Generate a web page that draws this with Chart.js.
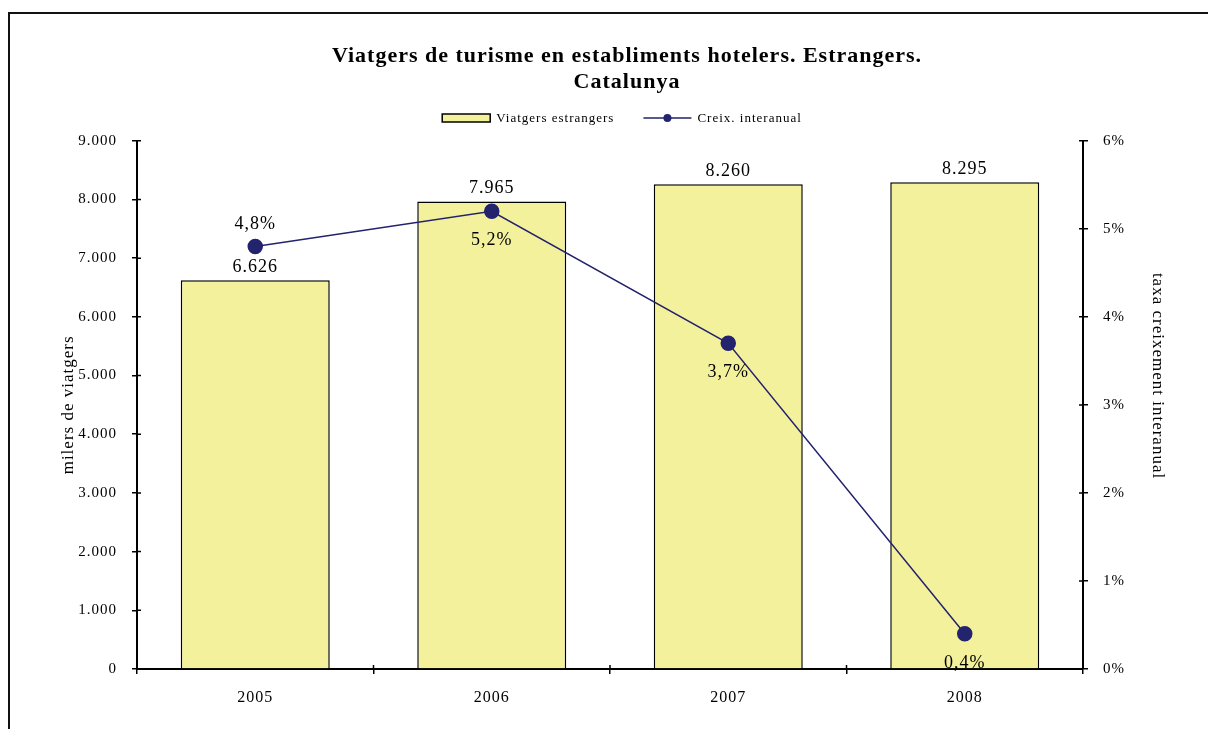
<!DOCTYPE html>
<html lang="ca">
<head>
<meta charset="UTF-8">
<style>
  html, body { margin: 0; padding: 0; background: #fff; overflow: hidden; }
  #frame { position: absolute; left: 8px; top: 12px; width: 1300px; height: 800px;
           border-top: 2px solid #111; border-left: 2px solid #111; }
  #chart { position: absolute; left: 0; top: 0; }
</style>
</head>
<body>
<div id="frame"></div>
<canvas id="chart" width="1208" height="729"></canvas>
<script src="https://cdn.jsdelivr.net/npm/chart.js@4/dist/chart.umd.min.js"></script>
<script>
    var years = ['2005', '2006', '2007', '2008'];
    var viatgers = [6626, 7965, 8260, 8295];   // milers de viatgers
    var creixement = [4.8, 5.2, 3.7, 0.4];      // % interanual

    var SERIF = '"Liberation Serif", "Times New Roman", serif';

    function milers(v) {
        return String(v).replace(/\B(?=(\d{3})+(?!\d))/g, '.');
    }
    function pct(v, dec) {
        return v.toFixed(dec).replace('.', ',') + '%';
    }

    // the original export has slightly spaced-out text
    var spacing = {
        id: 'spacing',
        beforeUpdate: function (chart) { chart.ctx.letterSpacing = '1px'; },
        beforeDraw: function (chart) { chart.ctx.letterSpacing = '1px'; }
    };

    // excel draws tick marks crossing the axis: add the inner half
    var crossTicks = {
        id: 'crossTicks',
        afterDatasetsDraw: function (chart) {
            var ctx = chart.ctx, len = 4;
            var y = chart.scales.y, y1 = chart.scales.y1, x = chart.scales.x;
            ctx.save();
            ctx.strokeStyle = '#000';
            ctx.lineWidth = 1.5;
            ctx.beginPath();
            y.ticks.forEach(function (t, i) {
                var p = y.getPixelForTick(i);
                ctx.moveTo(y.right, p); ctx.lineTo(y.right + len, p);
            });
            y1.ticks.forEach(function (t, i) {
                var p = y1.getPixelForTick(i);
                ctx.moveTo(y1.left - len, p); ctx.lineTo(y1.left, p);
            });
            var n = chart.data.labels.length;
            for (var k = 0; k <= n; k++) {
                var px = x.left + k * x.width / n;
                ctx.moveTo(px, x.top - len); ctx.lineTo(px, x.top);
            }
            ctx.stroke();
            ctx.restore();
        }
    };

    // value labels above bars / around the points
    var valueLabels = {
        id: 'valueLabels',
        afterDatasetsDraw: function (chart) {
            var ctx = chart.ctx;
            ctx.save();
            ctx.font = '18px ' + SERIF;
            ctx.fillStyle = '#000';
            ctx.textAlign = 'center';
            ctx.textBaseline = 'middle';
            chart.getDatasetMeta(0).data.forEach(function (bar, i) {
                ctx.fillText(milers(viatgers[i]), bar.x, bar.y - 13);
            });
            chart.getDatasetMeta(1).data.forEach(function (pt, i) {
                var dy = i === 0 ? -22 : 29;   // first label sits above the point
                ctx.fillText(pct(creixement[i], 1), pt.x, pt.y + dy);
            });
            ctx.restore();
        }
    };

    // small excel-like legend (box + line with marker)
    var legendRow = {
        id: 'legendRow',
        afterDraw: function (chart, args, opts) {
            var ctx = chart.ctx;
            var sets = chart.data.datasets;
            ctx.save();
            ctx.font = '13px ' + SERIF;
            var symW = 48, gapText = 6, gapItem = 29;
            var total = 0;
            sets.forEach(function (ds, i) {
                total += symW + gapText + ctx.measureText(ds.label).width;
                if (i < sets.length - 1) total += gapItem;
            });
            var x = opts.center - total / 2;
            var y = opts.y;
            sets.forEach(function (ds) {
                if (ds.type === 'bar') {
                    ctx.fillStyle = ds.backgroundColor;
                    ctx.strokeStyle = '#000';
                    ctx.lineWidth = 1.5;
                    ctx.fillRect(x, y - 4, symW, 8);
                    ctx.strokeRect(x, y - 4, symW, 8);
                } else {
                    ctx.strokeStyle = ds.borderColor;
                    ctx.lineWidth = 1.5;
                    ctx.beginPath();
                    ctx.moveTo(x, y);
                    ctx.lineTo(x + symW, y);
                    ctx.stroke();
                    ctx.fillStyle = ds.pointBackgroundColor;
                    ctx.beginPath();
                    ctx.arc(x + symW / 2, y, 4, 0, Math.PI * 2);
                    ctx.fill();
                }
                x += symW + gapText;
                ctx.fillStyle = '#000';
                ctx.textAlign = 'left';
                ctx.textBaseline = 'middle';
                ctx.fillText(ds.label, x, y + 1);
                x += ctx.measureText(ds.label).width + gapItem;
            });
            ctx.restore();
        }
    };

    new Chart(document.getElementById('chart'), {
        data: {
            labels: years,
            datasets: [
                {
                    type: 'bar',
                    label: 'Viatgers estrangers',
                    data: viatgers,
                    yAxisID: 'y',
                    order: 1,
                    backgroundColor: '#F4F19D',
                    borderColor: '#000',
                    borderWidth: 1.5,
                    barPercentage: 0.63,
                    categoryPercentage: 1
                },
                {
                    type: 'line',
                    label: 'Creix. interanual',
                    data: creixement,
                    yAxisID: 'y1',
                    order: 0,
                    borderColor: '#22226E',
                    borderWidth: 1.5,
                    pointRadius: 7,
                    pointBackgroundColor: '#23236E',
                    pointBorderColor: '#23236E',
                    tension: 0
                }
            ]
        },
        options: {
            responsive: false,
            animation: false,
            layout: { padding: { left: 46, right: 0, top: 0, bottom: 0 } },
            plugins: {
                legend: { display: false },
                tooltip: { enabled: false },
                title: {
                    display: true,
                    text: ['Viatgers de turisme en establiments hotelers. Estrangers.', 'Catalunya'],
                    color: '#000',
                    font: { family: SERIF, size: 22, weight: 'bold', lineHeight: 1.2 },
                    padding: { top: 43, bottom: 45 }
                },
                legendRow: { center: 622, y: 118 }
            },
            scales: {
                x: {
                    offset: true,
                    grid: { offset: true, drawOnChartArea: false, color: '#000', tickLength: 5, lineWidth: 1.5 },
                    border: { color: '#000', width: 2 },
                    ticks: { color: '#000', padding: 14, font: { family: SERIF, size: 16 } },
                    afterFit: function (s) { s.height = 60; }
                },
                y: {
                    position: 'left',
                    min: 0,
                    max: 9000,
                    ticks: {
                        stepSize: 1000,
                        color: '#000',
                        padding: 15,
                        font: { family: SERIF, size: 15 },
                        callback: function (v) { return milers(v); }
                    },
                    grid: { drawOnChartArea: false, color: '#000', tickLength: 5, lineWidth: 1.5 },
                    border: { color: '#000', width: 2 },
                    title: {
                        display: true,
                        text: 'milers de viatgers',
                        color: '#000',
                        font: { family: SERIF, size: 17 },
                        padding: { top: 12, bottom: 0 }
                    },
                    afterFit: function (s) { s.width = 91; }
                },
                y1: {
                    position: 'right',
                    min: 0,
                    max: 6,
                    ticks: {
                        stepSize: 1,
                        color: '#000',
                        padding: 15,
                        font: { family: SERIF, size: 15 },
                        callback: function (v) { return v + '%'; }
                    },
                    grid: { drawOnChartArea: false, color: '#000', tickLength: 5, lineWidth: 1.5 },
                    border: { color: '#000', width: 2 },
                    title: {
                        display: true,
                        // trailing spaces push the label up like in the original
                        text: 'taxa creixement interanual           ',
                        color: '#000',
                        font: { family: SERIF, size: 17 },
                        padding: { top: 40, bottom: 0 }
                    },
                    afterFit: function (s) { s.width = 125; }
                }
            }
        },
        plugins: [spacing, crossTicks, valueLabels, legendRow]
    });
</script>
</body>
</html>
